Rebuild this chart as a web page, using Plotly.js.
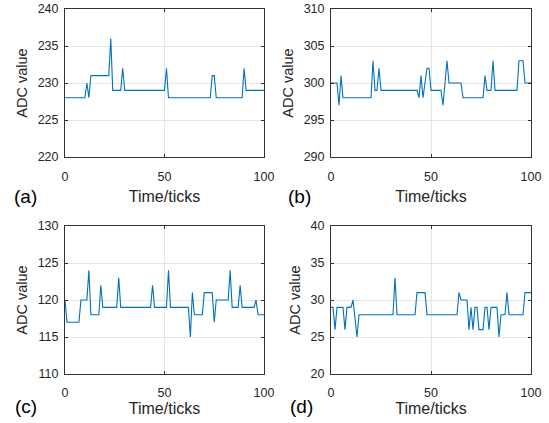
<!DOCTYPE html>
<html>
<head>
<meta charset="utf-8">
<script src="https://cdn.plot.ly/plotly-3.0.1.min.js"></script>
<style>html,body{margin:0;padding:0;background:#fff;}#chart{width:549px;height:423px;}</style>
</head>
<body>
<div id="chart"></div>
<script>
// ---- data ----
const ticks = Array.from({length: 101}, (_, i) => i); // time ticks 0..100
const seriesA = [228,228,228,228,228,228,228,228,228,228,228,230,228,231,231,231,231,231,231,231,231,231,231,236,229,229,229,229,229,232,229,229,229,229,229,229,229,229,229,229,229,229,229,229,229,229,229,229,229,229,229,232,228,228,228,228,228,228,228,228,228,228,228,228,228,228,228,228,228,228,228,228,228,228,231,231,228,228,228,228,228,228,228,228,228,228,228,228,228,228,232,229,229,229,229,229,229,229,229,229,229];
const seriesB = [300,300,300,300,297,301,298,298,298,298,298,298,298,298,298,298,298,298,298,298,298,303,299,299,302,299,299,299,299,299,299,299,299,299,299,299,299,299,299,299,299,299,299,299,298,301,298,300,302,302,299,299,299,299,299,299,297,300,303,300,300,300,300,300,300,300,298,298,298,298,298,298,298,298,298,298,298,301,299,299,299,303,299,299,299,299,299,299,299,299,299,299,299,299,303,303,303,300,300,300,300];
const seriesC = [120,117,117,117,117,117,117,117,120,120,120,120,124,118,118,118,118,118,122,119,119,119,119,119,119,119,119,123,119,119,119,119,119,119,119,119,119,119,119,119,119,119,119,119,122,119,119,119,119,119,119,119,124,119,119,119,119,119,119,119,119,119,119,115,121,118,118,118,118,118,121,121,121,121,121,117,120,120,120,120,120,120,120,124,119,119,119,119,122,119,119,119,119,119,119,119,120,118,118,118,118];
const seriesD = [29,29,26,29,29,29,29,26,29,29,29,30,27,25,28,28,28,28,28,28,28,28,28,28,28,28,28,28,28,28,28,28,33,28,28,28,28,28,28,28,28,28,28,31,31,31,31,31,28,28,28,28,28,28,28,28,28,28,28,28,28,28,28,28,31,30,30,30,30,26,29,26,29,29,26,26,26,29,29,26,29,29,29,29,25,28,28,28,31,28,28,28,28,28,28,28,28,31,31,31,31];
const yRanges = [[220,240],[290,310],[110,130],[20,40]];
const xTickVals = [0,50,100];
const panelLabels = ['(a)','(b)','(c)','(d)'];
const xTitle = 'Time/ticks';
const yTitle = 'ADC value';

// ---- layout geometry (pixels) ----
const W = 549, H = 423;
const boxes = [
  {x0:65, x1:264, y0:9, y1:157},
  {x0:331, x1:531, y0:9, y1:157},
  {x0:65, x1:264, y0:226, y1:374},
  {x0:331, x1:531, y0:226, y1:374}
];
const labelPos = [[25,196],[299,196],[26,406],[301,406]];
const xTickStandoff = [8, 8, 7, 7];
const xTitleStandoff = [7, 7, 0, 0];
const series = [seriesA, seriesB, seriesC, seriesD];
const lineColor = '#0072BD';
const axisColor = '#262626';
const font = 'Liberation Sans, Arial, sans-serif';

const data = [];
const layout = {
  width: W, height: H,
  margin: {l:0, r:0, t:0, b:0},
  paper_bgcolor: '#fff', plot_bgcolor: '#fff',
  showlegend: false,
  font: {family: font, color: axisColor, size: 12},
  annotations: []
};

series.forEach((ys, i) => {
  const n = i === 0 ? '' : String(i + 1);
  data.push({
    x: ticks, y: ys, type: 'scatter', mode: 'lines',
    line: {color: lineColor, width: 1.1},
    xaxis: 'x' + n, yaxis: 'y' + n, hoverinfo: 'skip'
  });
  const b = boxes[i];
  const common = {
    showline: true, mirror: 'ticks', linecolor: '#333333', linewidth: 1,
    ticks: 'inside', ticklen: 3, tickcolor: '#333333', tickwidth: 1,
    showgrid: true, gridcolor: '#e4e4e4', gridwidth: 1, zeroline: false,
    tickfont: {family: font, size: 12.5, color: axisColor},
    automargin: false, fixedrange: true
  };
  layout['xaxis' + n] = Object.assign({}, common, {
    domain: [b.x0 / W, b.x1 / W], range: [0, 100],
    tickvals: xTickVals, anchor: 'y' + n,
    ticklabelstandoff: xTickStandoff[i],
    title: {text: xTitle, font: {family: font, size: 16, color: axisColor}, standoff: xTitleStandoff[i]}
  });
  layout['yaxis' + n] = Object.assign({}, common, {
    domain: [1 - b.y1 / H, 1 - b.y0 / H], range: yRanges[i],
    dtick: 5, tick0: yRanges[i][0], anchor: 'x' + n,
    ticklabelstandoff: 3,
    title: {text: yTitle, font: {family: font, size: 14.5, color: axisColor}, standoff: 6}
  });
  layout.annotations.push({
    text: panelLabels[i], xref: 'paper', yref: 'paper',
    x: labelPos[i][0] / W, y: 1 - labelPos[i][1] / H,
    xanchor: 'center', yanchor: 'middle', showarrow: false,
    font: {family: font, size: 19, color: '#000'}
  });
});

Plotly.newPlot('chart', data, layout, {displayModeBar: false, staticPlot: true});
</script>
</body>
</html>
